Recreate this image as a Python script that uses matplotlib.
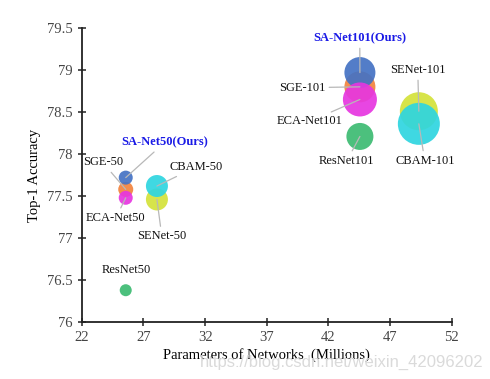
import matplotlib.pyplot as plt

# model names, params (M), top-1 acc, bubble diameter (px)
names = ['ResNet50', 'SENet-50', 'CBAM-50', 'SGE-50', 'SA-Net50(Ours)', 'ECA-Net50',
         'ResNet101', 'SENet-101', 'CBAM-101', 'SGE-101', 'SA-Net101(Ours)', 'ECA-Net101']
params = [25.56, 28.09, 28.09, 25.56, 25.56, 25.56,
          44.55, 49.33, 49.33, 44.55, 44.55, 44.55]
acc = [76.38, 77.46, 77.62, 77.58, 77.72, 77.48,
       78.21, 78.51, 78.36, 78.80, 78.97, 78.65]
diam = [12, 22, 22, 15, 14, 14,
        27, 38, 42, 31, 31, 34]
colors = ['#3dbb72', '#d4e23a', '#2ed5e0', '#f2833e', '#4472c4', '#e636e0',
          '#3dbb72', '#d4e23a', '#2ed5e0', '#f2833e', '#4472c4', '#e636e0']
# label text positions
label_x = [25.57, 28.49, 31.24, 23.70, 28.73, 24.76,
           43.49, 49.24, 49.81, 39.84, 44.54, 40.49]
label_y = [76.62, 77.02, 77.845, 77.90, 78.14, 77.24,
           77.92, 79.00, 77.92, 78.79, 79.38, 78.39]

plt.rcParams['font.family'] = ['Liberation Serif', 'DejaVu Serif']

fig = plt.figure(figsize=(4.9, 3.79), dpi=100)
ax = fig.add_axes([0.167, 0.150, 0.755, 0.776])

sizes = [(d * 0.72) ** 2 for d in diam]
ax.scatter(params, acc, s=sizes, c=colors, alpha=0.92, linewidths=0, zorder=2)

for i, name in enumerate(names):
    ours = 'Ours' in name
    ax.annotate(name, xy=(params[i], acc[i]), xytext=(label_x[i], label_y[i]),
                ha='center', va='center', fontsize=9,
                color='#1a1ae6' if ours else '#111111',
                fontweight='bold' if ours else 'normal',
                arrowprops=None if name == 'ResNet50' else
                dict(arrowstyle='-', color='#b8b8b8', lw=0.9, shrinkA=1, shrinkB=0),
                zorder=3)

ax.set_xlim(22, 52)
ax.set_ylim(76, 79.5)
ax.set_xticks([22, 27, 32, 37, 42, 47, 52])
ax.set_yticks([76, 76.5, 77, 77.5, 78, 78.5, 79, 79.5])
ax.set_yticklabels(['76', '76.5', '77', '77.5', '78', '78.5', '79', '79.5'])
ax.spines['top'].set_visible(False)
ax.spines['right'].set_visible(False)
for sp in ['left', 'bottom']:
    ax.spines[sp].set_linewidth(1.3)
    ax.spines[sp].set_color('#222222')
ax.tick_params(direction='inout', length=6, width=1.1, labelsize=10.5,
               labelcolor='#444444', color='#222222')
ax.set_xlabel('Parameters of Networks  (Millions)', fontsize=10.5, labelpad=3)
ax.set_ylabel('Top-1 Accuracy', fontsize=10.5, labelpad=4)

# watermark
fig.text(0.986, 0.032, 'https://blog.csdn.net/weixin_42096202', ha='right', va='baseline',
         fontsize=12, color='#dadada', family='Liberation Sans', zorder=0)

fig.savefig('out.png', dpi=100)
